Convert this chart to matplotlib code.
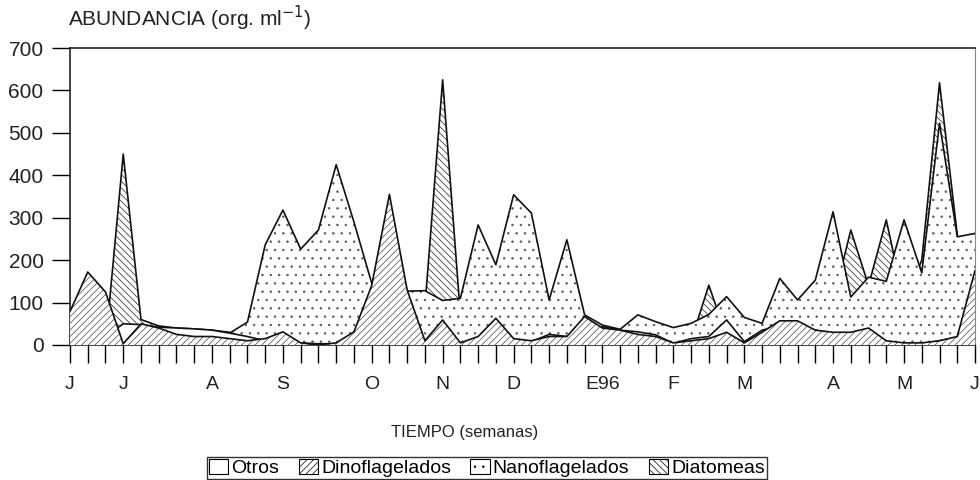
import matplotlib
matplotlib.use("Agg")
import matplotlib.pyplot as plt
from matplotlib.patches import Patch
from matplotlib import font_manager

# ---------------- data (weekly samples, org. ml-1) ----------------
weeks = list(range(52))

month_labels = ["J", "J", "A", "S", "O", "N", "D", "E96", "F", "M", "A", "M", "J"]
month_weeks = [0, 3, 8, 12, 17, 21, 25, 30, 34, 38, 43, 47, 51]

otros = [3, 3, 20, 50, 48, 42, 40, 38, 35, 28, 20, 10, 8, 5, 3, 3, 10, 25, 30, 20,
         8, 10, 5, 12, 15, 10, 8, 25, 20, 39, 43, 35, 31, 24, 4, 15, 20, 59, 8, 35,
         45, 43, 35, 28, 28, 30, 4, 2, 2, 10, 18, 28]

dinoflagelados = [79, 172, 125, 3, 50, 40, 25, 20, 20, 15, 10, 15, 31, 5, 0, 5, 31, 140, 355, 130,
                  10, 59, 5, 20, 63, 15, 10, 20, 20, 67, 40, 35, 25, 20, 5, 10, 15, 30, 5, 30,
                  57, 57, 35, 30, 30, 40, 10, 5, 5, 10, 20, 175]

nanoflagelados = [5, 5, 10, 15, 30, 35, 35, 30, 28, 28, 54, 236, 318, 226, 271, 425, 290, 146, 140, 127,
                  128, 105, 110, 283, 189, 354, 311, 106, 248, 71, 47, 37, 71, 55, 41, 51, 72, 114, 65, 51,
                  157, 106, 153, 314, 113, 160, 150, 295, 170, 523, 255, 263]

diatomeas = [0, 0, 0, 450, 60, 45, 40, 38, 35, 30, 10, 5, 5, 5, 5, 5, 5, 5, 5, 5,
             90, 625, 70, 10, 10, 10, 10, 10, 10, 10, 10, 10, 10, 10, 10, 10, 141, 20, 10, 10,
             10, 10, 10, 100, 271, 140, 295, 100, 200, 618, 260, 20]

series_names = ["Otros", "Dinoflagelados", "Nanoflagelados", "Diatomeas"]
y_ticks = [0, 100, 200, 300, 400, 500, 600, 700]

# ---------------- fonts ----------------
avail = {f.name for f in font_manager.fontManager.ttflist}
fam = [f for f in ["Liberation Sans Narrow", "Liberation Sans", "DejaVu Sans"] if f in avail]
plt.rcParams["font.family"] = fam
plt.rcParams["hatch.linewidth"] = 0.5

fig = plt.figure(figsize=(9.8, 4.8), dpi=100)
ax = fig.add_axes([70 / 980, 135 / 480, 905 / 980, 297 / 480])

hatches = {"Otros": "", "Dinoflagelados": "/////", "Nanoflagelados": "..", "Diatomeas": "\\\\\\\\\\"}
hatch_colors = {"Otros": "black", "Dinoflagelados": "#444444",
                "Nanoflagelados": "#555555", "Diatomeas": "#222222"}
data = {"Otros": otros, "Dinoflagelados": dinoflagelados,
        "Nanoflagelados": nanoflagelados, "Diatomeas": diatomeas}

draw_order = ["Diatomeas", "Nanoflagelados", "Otros", "Dinoflagelados"]
for z, name in enumerate(draw_order):
    vals = data[name]
    ax.fill_between(weeks, 0, vals, facecolor="white", edgecolor=hatch_colors[name],
                    hatch=hatches[name], linewidth=0, zorder=2 + z)
    ax.plot(weeks, vals, color="#111111", linewidth=1.2, zorder=2.5 + z)

ax.set_xlim(0, 51)
ax.set_ylim(0, 700)

xt_labels = ["" for _ in weeks]
for w, lab in zip(month_weeks, month_labels):
    xt_labels[w] = lab
ax.set_xticks(weeks)
ax.set_xticklabels(xt_labels, fontsize=14, color="#222222")
ax.set_yticks(y_ticks)
ax.set_yticklabels([str(v) for v in y_ticks], fontsize=15, color="#222222")
ax.tick_params(axis="x", direction="out", length=13, width=1.0, pad=9)
ax.tick_params(axis="y", direction="out", length=13, width=1.0, pad=6)

for s in ax.spines.values():
    s.set_linewidth(1.2)
    s.set_color("#222222")
ax.spines["right"].set_linewidth(0.8)
ax.spines["right"].set_color("#888888")

fig.text(68 / 980, 1 - 18 / 480, "ABUNDANCIA (org. ml$^{-1}$)", fontsize=15,
         ha="left", va="center", color="#222222")
fig.text(465 / 980, 1 - 432 / 480, "TIEMPO (semanas)", fontsize=12,
         ha="center", va="center", color="#222222")

handles = [Patch(facecolor="white", edgecolor="black", hatch=hatches[n], linewidth=0.8)
           for n in series_names]
leg = fig.legend(handles, series_names, loc="center", bbox_to_anchor=(487 / 980, 12 / 480),
                 ncol=4, frameon=True, fancybox=False, fontsize=14, handlelength=1.0,
                 handleheight=0.8, handletextpad=0.15, columnspacing=1.0, borderpad=0.1,
                 borderaxespad=0)
leg.get_frame().set_edgecolor("black")
leg.get_frame().set_linewidth(1.0)

fig.savefig("out.png", dpi=100, facecolor="white")
